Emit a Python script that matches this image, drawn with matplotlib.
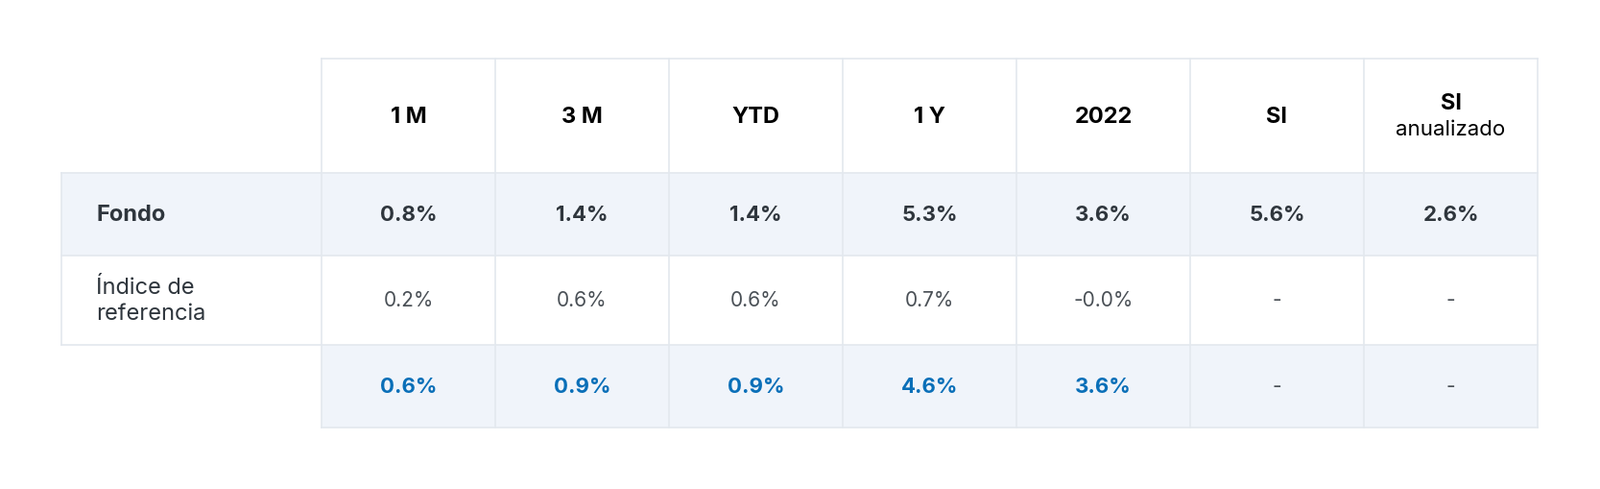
import matplotlib.pyplot as plt
from matplotlib.patches import Rectangle

columns = ["1 M", "3 M", "YTD", "1 Y", "2022", "SI", "SI"]
fondo = ["0.8%", "1.4%", "1.4%", "5.3%", "3.6%", "5.6%", "2.6%"]
indice = ["0.2%", "0.6%", "0.6%", "0.7%", "-0.0%", "-", "-"]
diferencia = ["0.6%", "0.9%", "0.9%", "4.6%", "3.6%", "-", "-"]

FONT = "Inter"
DARK = "#2f363d"
GRAY = "#4a5056"
BLUE = "#0a6fb8"
BG = "#f0f4fa"
GRID = "#e3e8ee"

fig = plt.figure(figsize=(16.67, 5.1), dpi=100)
ax = fig.add_axes([0, 0, 1, 1])
ax.set_xlim(0, 1667)
ax.set_ylim(510, 0)
ax.axis("off")

lab_x0, col_x0, col_w = 64, 335, 181
rows_y = [62, 181, 267, 360, 446]
right = col_x0 + col_w * len(columns)

# 背景
ax.add_patch(Rectangle((lab_x0, rows_y[1]), right - lab_x0, rows_y[2] - rows_y[1],
                       facecolor=BG, edgecolor="none", zorder=0))
ax.add_patch(Rectangle((col_x0, rows_y[3]), right - col_x0, rows_y[4] - rows_y[3],
                       facecolor=BG, edgecolor="none", zorder=0))

# 罫線
lw = 1.2
for i in range(len(columns) + 1):
    x = col_x0 + col_w * i
    ax.plot([x, x], [rows_y[0], rows_y[4]], color=GRID, lw=lw, zorder=1)
ax.plot([lab_x0, lab_x0], [rows_y[1], rows_y[3]], color=GRID, lw=lw, zorder=1)
ax.plot([col_x0, right], [rows_y[0], rows_y[0]], color=GRID, lw=lw, zorder=1)
for y in rows_y[1:4]:
    ax.plot([lab_x0, right], [y, y], color=GRID, lw=lw, zorder=1)
ax.plot([col_x0, right], [rows_y[4], rows_y[4]], color=GRID, lw=lw, zorder=1)

# ヘッダー
hy = (rows_y[0] + rows_y[1]) / 2
for i, c in enumerate(columns):
    cx = col_x0 + col_w * (i + 0.5)
    if i == len(columns) - 1:
        ax.text(cx, hy - 14, c, ha="center", va="center", fontsize=17,
                fontweight="bold", color="black", family=FONT)
        ax.text(cx, hy + 14, "anualizado", ha="center", va="center", fontsize=16,
                color="black", family=FONT)
    else:
        ax.text(cx, hy, c, ha="center", va="center", fontsize=17,
                fontweight="bold", color="black", family=FONT)

# 行ラベル
lx = lab_x0 + 36
ax.text(lx, (rows_y[1] + rows_y[2]) / 2, "Fondo", ha="left", va="center",
        fontsize=17, fontweight="bold", color=DARK, family=FONT)
ax.text(lx, (rows_y[2] + rows_y[3]) / 2, "Índice de\nreferencia", ha="left",
        va="center", fontsize=17, color=DARK, family=FONT, linespacing=1.3)

# 値
for i in range(len(columns)):
    cx = col_x0 + col_w * (i + 0.5)
    ax.text(cx, (rows_y[1] + rows_y[2]) / 2, fondo[i], ha="center", va="center",
            fontsize=16, fontweight="bold", color=DARK, family=FONT)
    ax.text(cx, (rows_y[2] + rows_y[3]) / 2, indice[i], ha="center", va="center",
            fontsize=15, color=GRAY, family=FONT)
    is_dash = diferencia[i] == "-"
    ax.text(cx, (rows_y[3] + rows_y[4]) / 2, diferencia[i], ha="center", va="center",
            fontsize=15 if is_dash else 16, fontweight="normal" if is_dash else "bold",
            color=GRAY if is_dash else BLUE, family=FONT)

fig.savefig("out.png", dpi=100, facecolor="white")
